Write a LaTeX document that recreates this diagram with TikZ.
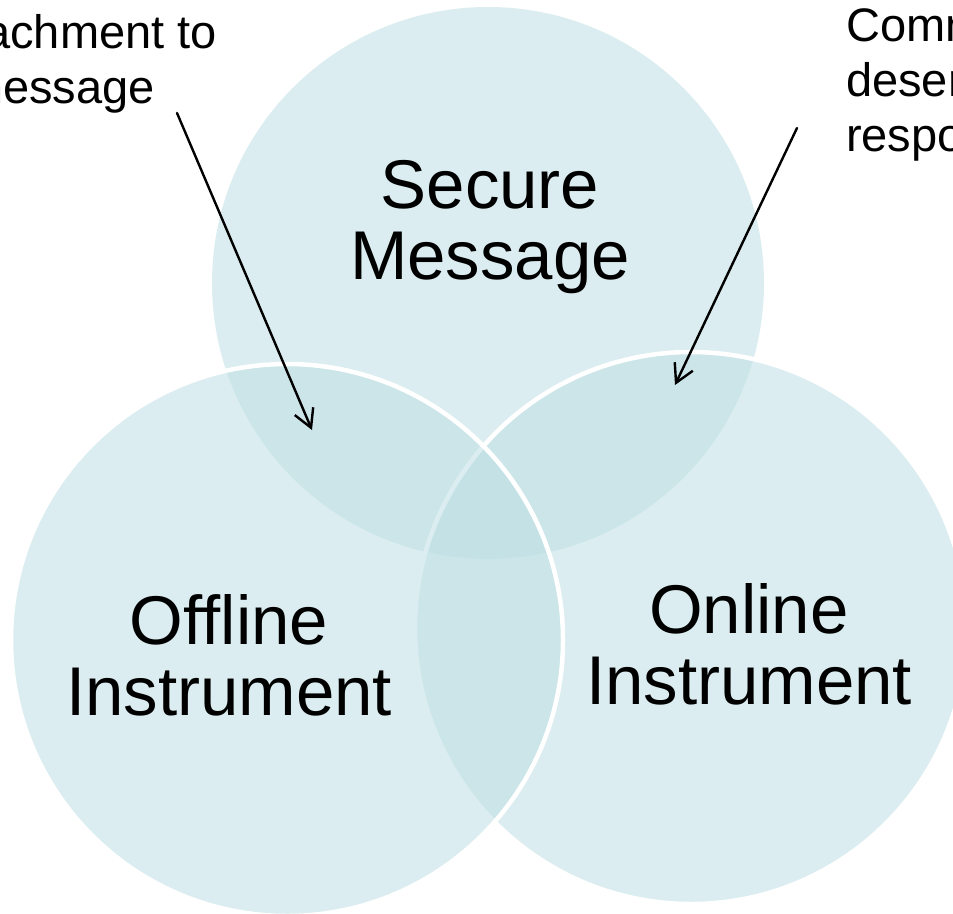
\documentclass[tikz,border=0pt]{standalone}
\usepackage{fontspec}
\setmainfont{Liberation Sans}
\usetikzlibrary{arrows.meta}
\definecolor{vennfill}{RGB}{191,224,228}
\begin{document}
\begin{tikzpicture}[x=1pt,y=-1pt,
  vcirc/.style={circle, minimum size=552pt, inner sep=0pt, fill=vennfill, fill opacity=0.55, draw=white, line width=4.5pt},
  biglabel/.style={inner sep=0pt, anchor=base, font=\fontsize{69}{71}\selectfont},
  notelabel/.style={inner sep=0pt, font=\fontsize{47}{55}\selectfont},
  pointer/.style={-{Straight Barb[length=18pt,width=20pt]}, line width=2.4pt, line cap=round}]
\useasboundingbox (0,0) rectangle (953,913);
\clip (0,0) rectangle (953,913);
\fill[white] (0,0) rectangle (953,913);
% circles: top, right, left
\node[vcirc, draw=none] (secure) at (488,283) {};
\node[vcirc] (online) at (691,628) {};
\node[vcirc] (offline) at (287,640) {};
% circle labels
\node[biglabel] (securetxt) at (490,208) {\begin{tabular}[t]{@{}c@{}}Secure\\Message\end{tabular}};
\node[biglabel] (offlinetxt) at (229,644) {\begin{tabular}[t]{@{}c@{}}Offline\\Instrument\end{tabular}};
\node[biglabel] (onlinetxt) at (749,633) {\begin{tabular}[t]{@{}c@{}}Online\\Instrument\end{tabular}};
% note labels
\node[notelabel, anchor=base east] (attachA) at (217,48) {Attachment to};
\node[notelabel, anchor=base east] (attachB) at (155,103) {message};
\node[notelabel, anchor=base west] (comments) at (846,41) {\begin{tabular}[t]{@{}l@{}}Comments\\deserving\\response\end{tabular}};
% pointers
\coordinate (p1s) at (177,113);
\coordinate (p1e) at (312,430);
\coordinate (p2s) at (797,128);
\coordinate (p2e) at (675,385);
\draw[pointer] (p1s) -- (p1e);
\draw[pointer] (p2s) -- (p2e);
\end{tikzpicture}
\end{document}
